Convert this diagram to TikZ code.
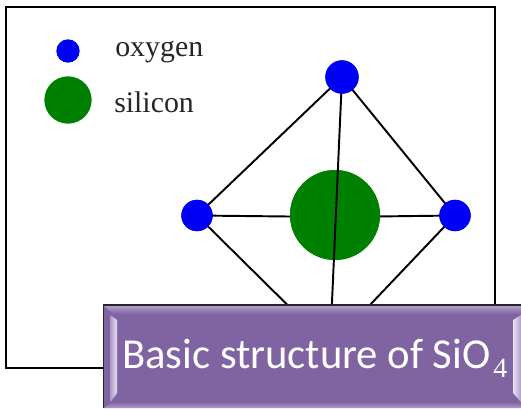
\documentclass[tikz,border=0pt]{standalone}
\usepackage{fontspec}
\setmainfont{Liberation Serif}
\newfontfamily\bannerfont{Carlito}
\usetikzlibrary{calc}
\definecolor{oxy}{RGB}{0,0,245}
\definecolor{sil}{RGB}{0,128,0}
\definecolor{banner}{RGB}{128,100,162}
\definecolor{bevlight}{RGB}{232,222,245}
\definecolor{bevmid}{RGB}{176,157,200}
\tikzset{
  x=0.75pt,y=-0.75pt,
  bond/.style={draw=black,line width=1.45pt},
  oxygen/.style={circle,fill=oxy,inner sep=0pt,minimum size=25pt},
  oxykey/.style={circle,fill=oxy,inner sep=0pt,minimum size=17.5pt},
  silicon/.style={circle,fill=sil,inner sep=0pt},
  keylabel/.style={inner sep=0pt,anchor=base west,font=\fontsize{22.4pt}{24pt}\selectfont,text=black!85},
}
\begin{document}
\begin{tikzpicture}
\useasboundingbox (0,0) rectangle (521,408);
\fill[white] (0,0) rectangle (521,408);
\draw[black,line width=1.5pt] (5.5,6.5) rectangle (494.5,367.5);
% atoms and bonds
\node[oxygen] (top) at (342,77) {};
\node[oxygen,minimum size=23.5pt] (left) at (197,215.5) {};
\node[oxygen,minimum size=23.5pt] (right) at (455,215.5) {};
\node[silicon,minimum size=67.5pt] (si) at (335,215) {};
\coordinate (bottom) at (330,347);
\coordinate (mid) at (335,217);
\draw[bond] (top.center) -- (left.center);
\draw[bond] (top.center) -- (right.center);
\draw[bond] (left.center) -- (bottom);
\draw[bond] (right.center) -- (bottom);
\draw[bond] (left.center) -- (mid);
\draw[bond] (right.center) -- (mid);
\node[silicon,minimum size=67.5pt] at (si) {};
\draw[bond] (top.center) -- (bottom);
\node[oxygen] at (top) {};
\node[oxygen,minimum size=23.5pt] at (left) {};
\node[oxygen,minimum size=23.5pt] at (right) {};
% key
\node[oxykey] (keyo) at (68,51) {};
\node[silicon,minimum size=35.5pt] (keys) at (68,100) {};
\node[keylabel] (lo) at (115,56) {oxygen};
\node[keylabel] (ls) at (114,112) {silicon};
% banner
\fill[banner] (103,305) rectangle (521,408);
\shade[top color=bevmid,bottom color=banner] (104,306) -- (521,306) -- (521,314) -- (113,314) -- cycle;
\shade[top color=banner,bottom color=bevmid] (104,408) -- (521,408) -- (521,402) -- (113,402) -- cycle;
\shade[left color=bevmid,right color=bevlight] (110.5,315) -- (117,320) -- (117,393) -- (110.5,402) -- cycle;
\shade[left color=bevlight,right color=bevmid] (513,320) -- (521,315) -- (521,402) -- (513,393) -- cycle;
\draw[black!85,line width=1.4pt] (103.5,408) -- (103.5,305) -- (521,305);
\node[inner sep=0pt,anchor=base west,text=white,font=\bannerfont\fontsize{32pt}{34pt}\selectfont] (title) at (122,368) {Basic structure of SiO\raisebox{-6.8pt}{\hspace{2pt}\rmfamily\fontsize{21pt}{22pt}\selectfont 4}};
\end{tikzpicture}
\end{document}
